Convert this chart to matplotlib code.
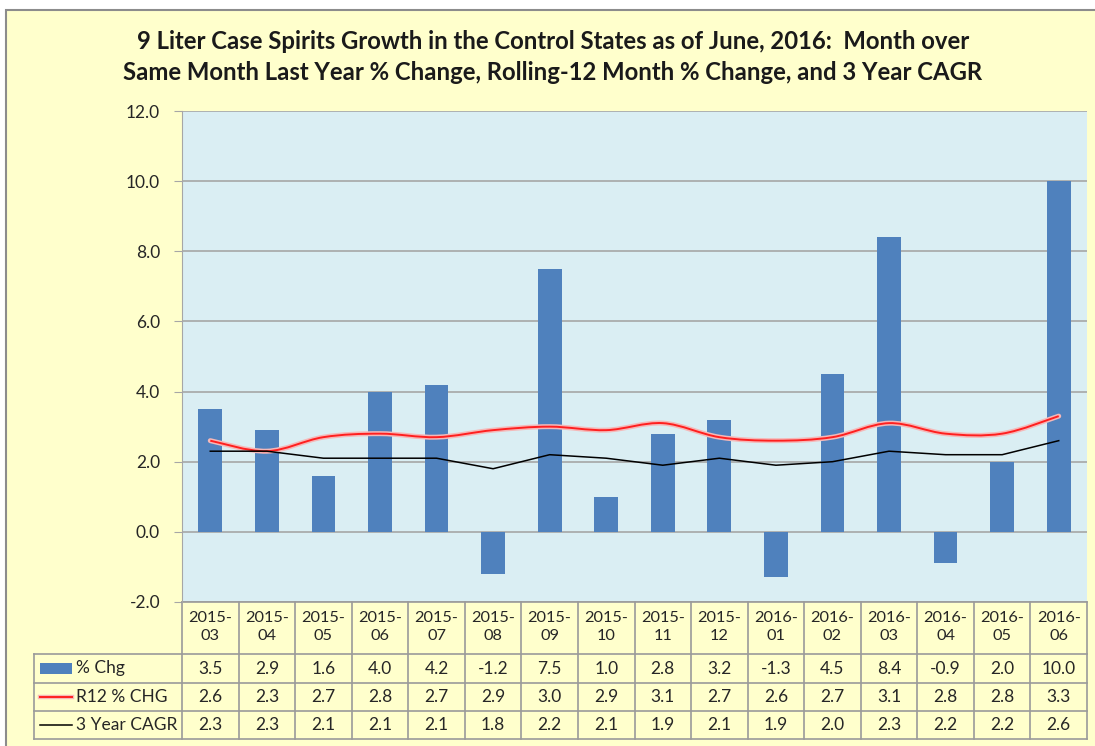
import numpy as np
import matplotlib
matplotlib.use("Agg")
import matplotlib.pyplot as plt
from matplotlib.path import Path
from matplotlib.patches import PathPatch, Rectangle
from matplotlib.transforms import blended_transform_factory

months = ["2015-\n03", "2015-\n04", "2015-\n05", "2015-\n06", "2015-\n07", "2015-\n08",
          "2015-\n09", "2015-\n10", "2015-\n11", "2015-\n12", "2016-\n01", "2016-\n02",
          "2016-\n03", "2016-\n04", "2016-\n05", "2016-\n06"]
pct_chg = [3.5, 2.9, 1.6, 4.0, 4.2, -1.2, 7.5, 1.0, 2.8, 3.2, -1.3, 4.5, 8.4, -0.9, 2.0, 10.0]
r12_chg = [2.6, 2.3, 2.7, 2.8, 2.7, 2.9, 3.0, 2.9, 3.1, 2.7, 2.6, 2.7, 3.1, 2.8, 2.8, 3.3]
cagr3 = [2.3, 2.3, 2.1, 2.1, 2.1, 1.8, 2.2, 2.1, 1.9, 2.1, 1.9, 2.0, 2.3, 2.2, 2.2, 2.6]
series_names = ["% Chg", "R12 % CHG", "3 Year CAGR"]
title = ("9 Liter Case Spirits Growth in the Control States as of June, 2016:  Month over\n"
         "Same Month Last Year % Change, Rolling-12 Month % Change, and 3 Year CAGR")

W, H = 1095, 746
FONT = "Lato"
YEL = "#FFFFCC"
BLUE = "#4F81BD"
GRID = "#A6A6A6"
TBL = "#9A9A9A"
TXT = "#262626"
FS = 12.5

fig = plt.figure(figsize=(W / 100, H / 100), dpi=100, facecolor="white")
# chart area background with border
fig.patches.append(Rectangle((6 / W, -0.01), 1.1, (H - 10) / H + 0.01, transform=fig.transFigure,
                             facecolor=YEL, edgecolor="#8C8C8C", lw=1.5, zorder=-10))

L, R, T, B = 182, 1087, 111, 602
ax = fig.add_axes([L / W, 1 - B / H, (R - L) / W, (B - T) / H])
ax.set_facecolor("#DAEEF3")
n = len(months)
x = np.arange(n)
ax.set_xlim(-0.5, n - 0.5)
ax.set_ylim(-2, 12)
ax.set_yticks(np.arange(-2, 12.1, 2))
ax.set_yticklabels([f"{v:.1f}" for v in np.arange(-2, 12.1, 2)], fontsize=FS, family=FONT, color=TXT)
ax.tick_params(axis="y", length=5.8, color=GRID, pad=10)
ax.set_xticks([])
for s in ["top", "right", "bottom"]:
    ax.spines[s].set_visible(False)
ax.spines["left"].set_color(GRID)
ax.yaxis.grid(True, color=GRID, lw=1.2)
ax.set_axisbelow(True)

ax.bar(x, pct_chg, width=0.42, color=BLUE, zorder=2)


def smooth_path(xs, ys, t=1 / 6):
    verts = [(xs[0], ys[0])]
    codes = [Path.MOVETO]
    m = len(xs)
    for i in range(m - 1):
        p0 = (xs[max(i - 1, 0)], ys[max(i - 1, 0)])
        p1 = (xs[i], ys[i])
        p2 = (xs[i + 1], ys[i + 1])
        p3 = (xs[min(i + 2, m - 1)], ys[min(i + 2, m - 1)])
        c1 = (p1[0] + (p2[0] - p0[0]) * t, p1[1] + (p2[1] - p0[1]) * t)
        c2 = (p2[0] - (p3[0] - p1[0]) * t, p2[1] - (p3[1] - p1[1]) * t)
        verts += [c1, c2, p2]
        codes += [Path.CURVE4] * 3
    return Path(verts, codes)


GLOW = "#F5B8B8"
RED = "#FF1F1F"
rp = smooth_path(x, r12_chg)
ax.add_patch(PathPatch(rp, facecolor="none", edgecolor=GLOW, lw=3.6, zorder=3, capstyle="round"))
ax.add_patch(PathPatch(rp, facecolor="none", edgecolor=RED, lw=1.4, zorder=4))
ax.plot(x, cagr3, color="black", lw=1.1, zorder=5)

fig.text(553 / W, 1 - 57 / H, title, ha="center", va="center", fontsize=17.2, fontweight="bold",
         family=FONT, color="#1a1a1a", linespacing=1.4)

# data table
tr = blended_transform_factory(ax.transData, fig.transFigure)
def fy(py):
    return 1 - py / H

rows_y = [602, 654, 683, 711, 739]
xl = -0.5 - (L - 34) * n / (R - L)
kw = dict(transform=tr, clip_on=False, color=TBL, lw=1.2)
# vertical lines
for i in range(n + 1):
    ax.plot([i - 0.5, i - 0.5], [fy(602), fy(739)], **kw)
ax.plot([xl, xl], [fy(654), fy(739)], **kw)
# horizontal lines
ax.plot([-0.5, n - 0.5], [fy(602), fy(602)], **kw)
for yy in rows_y[1:]:
    ax.plot([xl, n - 0.5], [fy(yy), fy(yy)], **kw)

tkw = dict(transform=tr, ha="center", va="center", family=FONT, color=TXT)
for i, m in enumerate(months):
    ax.text(i, fy(627), m, linespacing=1.3, fontsize=11.8, **tkw)
for r, vals in enumerate([pct_chg, r12_chg, cagr3]):
    yc = fy((rows_y[r + 1] + rows_y[r + 2]) / 2)
    for i, v in enumerate(vals):
        ax.text(i, yc, f"{v:.1f}", fontsize=FS, **tkw)

# legend keys in the label column
px = n / (R - L)
k0, k1 = xl + 6 * px, xl + 38 * px
y1 = fy(668.5)
ax.add_patch(Rectangle((k0, fy(674)), k1 - k0, fy(663) - fy(674), transform=tr, clip_on=False,
                       facecolor=BLUE, edgecolor="none"))
y2 = fy(697)
ax.plot([k0, k1], [y2, y2], transform=tr, clip_on=False, color=GLOW, lw=3.2)
ax.plot([k0, k1], [y2, y2], transform=tr, clip_on=False, color=RED, lw=1.4)
y3 = fy(725)
ax.plot([k0, k1], [y3, y3], transform=tr, clip_on=False, color="black", lw=1.1)
for yy, name in zip([y1, y2, y3], series_names):
    ax.text(k1 + 4 * px, yy, name, transform=tr, ha="left", va="center", fontsize=FS,
            family=FONT, color=TXT)

fig.savefig("out.png", dpi=100, facecolor=fig.get_facecolor())
